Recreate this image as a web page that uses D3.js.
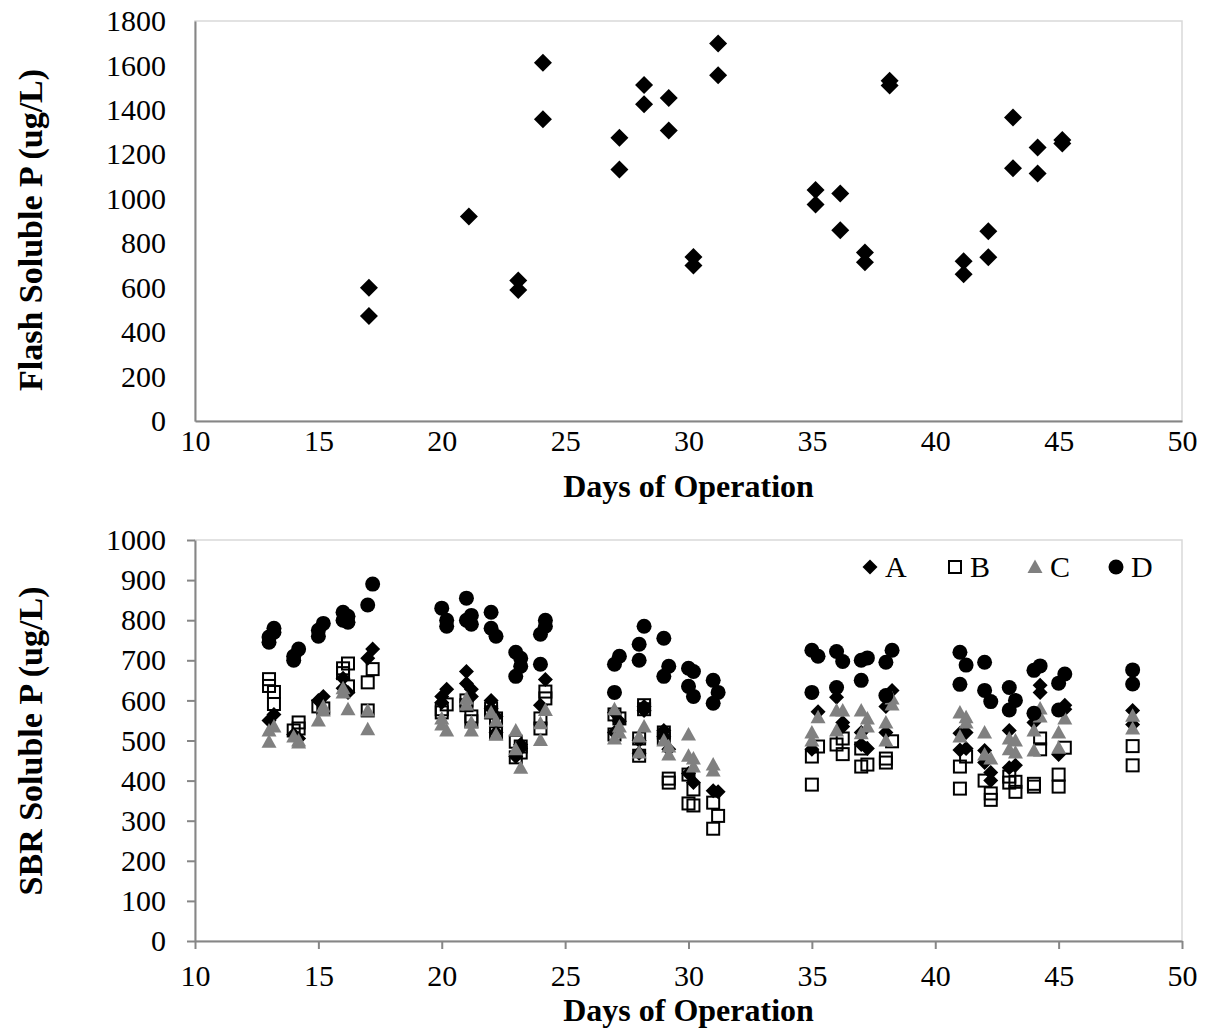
<!DOCTYPE html>
<html>
<head>
<meta charset="utf-8">
<script src="https://cdn.jsdelivr.net/npm/d3@7"></script>
<style>
    body { margin: 0; background: #fff; }
    svg text { font-family: "Liberation Serif", "Times New Roman", serif; fill: #000; }
</style>
</head>
<body>
<div id="chart"></div>
<script>
// Flash soluble P readings (day, ug/L)
const flashDays = [17.05, 17.05, 21.1, 23.1, 23.1, 24.1, 24.1, 27.2, 27.2, 28.2, 28.2, 29.2, 29.2,
    30.2, 30.2, 31.2, 31.2, 35.15, 35.15, 36.15, 36.15, 37.15, 37.15, 38.15, 38.15,
    41.15, 41.15, 42.15, 42.15, 43.15, 43.15, 44.15, 44.15, 45.15, 45.15];
const flashValues = [600, 472, 920, 632, 590, 1612, 1358, 1275, 1132, 1512, 1425, 1454, 1307,
    738, 700, 1699, 1556, 1039, 974, 1024, 858, 758, 714, 1531, 1510,
    719, 660, 854, 737, 1366, 1137, 1231, 1114, 1264, 1249];

// SBR soluble P, one list of [day, ug/L] per reactor
const sbrA = [
    [13, 550], [13.2, 565], [14, 515], [14.2, 505], [15, 600], [15.2, 610],
    [16, 655], [16, 630], [16.2, 620], [17, 705], [17.2, 728],
    [20, 595], [20, 610], [20.2, 628], [21, 672], [21, 642], [21.2, 628], [21.2, 610],
    [22, 600], [22, 580], [22.2, 560], [22.2, 520], [23, 460], [23.2, 490], [23.2, 480],
    [24, 588], [24.2, 652],
    [27, 570], [27, 520], [27.2, 548], [28, 500], [28, 468], [28.2, 585], [28.2, 575],
    [29, 525], [29, 510], [29.2, 478], [30, 418], [30.2, 395], [31, 375], [31.2, 372],
    [35, 478], [35.25, 572], [36, 608], [36.25, 545], [36.25, 535],
    [37, 520], [37, 490], [37.25, 480], [38, 585], [38, 520], [38.25, 625],
    [41, 518], [41, 476], [41.25, 520], [41.25, 480], [42, 475], [42, 445], [42.25, 420], [42.25, 400],
    [43, 525], [43, 432], [43.25, 438], [44, 545], [44.25, 638], [44.25, 620],
    [45, 465], [45.25, 588], [45.25, 578], [48, 575], [48, 540]
];
const sbrB = [
    [13, 653], [13, 636], [13.2, 621], [13.2, 591], [14, 525], [14.2, 545], [14.2, 530],
    [15, 585], [15.2, 580], [16, 680], [16, 668], [16.2, 692], [16.2, 635],
    [17, 645], [17, 575], [17.2, 678],
    [20, 570], [20, 578], [20.2, 590], [21, 600], [21, 588], [21.2, 560], [21.2, 548],
    [22, 580], [22, 570], [22.2, 555], [22.2, 518], [23, 497], [23, 458], [23.2, 485], [23.2, 470],
    [24, 555], [24, 530], [24.2, 622], [24.2, 605],
    [27, 565], [27, 515], [27.2, 555], [28, 505], [28, 462], [28.2, 588], [28.2, 578],
    [29, 520], [29, 505], [29.2, 405], [29.2, 395], [30, 415], [30, 343], [30.2, 378], [30.2, 338],
    [31, 345], [31, 280], [31.2, 312],
    [35, 460], [35, 390], [35.25, 485], [36, 490], [36.25, 505], [36.25, 466],
    [37, 480], [37, 435], [37.25, 440], [38, 455], [38, 445], [38.25, 498],
    [41, 435], [41, 380], [41.25, 460], [42, 400], [42.25, 368], [42.25, 352],
    [43, 410], [43, 395], [43.25, 397], [43.25, 372], [44, 392], [44, 385], [44.25, 505], [44.25, 478],
    [45, 415], [45, 385], [45.25, 482], [48, 486], [48, 438]
];
const sbrC = [
    [13, 525], [13, 497], [13.2, 535], [14, 510], [14.2, 495], [14.2, 500],
    [15, 550], [15.2, 575], [15.2, 585], [16, 630], [16, 620], [16.2, 578],
    [17, 575], [17, 528],
    [20, 555], [20, 540], [20.2, 525], [21, 605], [21, 590], [21.2, 545], [21.2, 525],
    [22, 570], [22.2, 550], [22.2, 515], [23, 525], [23, 478], [23.2, 432],
    [24, 543], [24, 501], [24.2, 576],
    [27, 578], [27, 505], [27.2, 535], [27.2, 520], [28, 510], [28, 470], [28.2, 535],
    [29, 500], [29.2, 485], [29.2, 465], [30, 515], [30, 462], [30.2, 455], [30.2, 435],
    [31, 440], [31, 425],
    [35, 520], [35, 500], [35.25, 558], [36, 575], [36, 525], [36.25, 575],
    [37, 575], [37, 518], [37.25, 555], [37.25, 535], [38, 545], [38, 500], [38.25, 605], [38.25, 590],
    [41, 570], [41, 510], [41.25, 558], [41.25, 545], [42, 520], [42, 465], [42.25, 455],
    [43, 505], [43, 478], [43.25, 500], [43.25, 470], [44, 525], [44, 475], [44.25, 580], [44.25, 560],
    [45, 520], [45, 482], [45.25, 555], [48, 562], [48, 530]
];
const sbrD = [
    [13, 758], [13, 745], [13.2, 780], [13.2, 770], [14, 700], [14, 710], [14.2, 728],
    [15, 760], [15, 775], [15.2, 792], [16, 820], [16, 800], [16.2, 795], [16.2, 810],
    [17, 838], [17.2, 890],
    [20, 830], [20.2, 800], [20.2, 785], [21, 855], [21, 800], [21.2, 812], [21.2, 790],
    [22, 820], [22, 780], [22.2, 760], [23, 720], [23, 660], [23.2, 705], [23.2, 685],
    [24, 690], [24, 765], [24.2, 800], [24.2, 785],
    [27, 620], [27, 690], [27.2, 710], [28, 740], [28, 700], [28.2, 785],
    [29, 755], [29, 660], [29.2, 685], [30, 680], [30, 635], [30.2, 672], [30.2, 610],
    [31, 650], [31, 593], [31.2, 620],
    [35, 725], [35, 620], [35.25, 710], [36, 722], [36, 632], [36.25, 697],
    [37, 700], [37, 650], [37.25, 706], [38, 695], [38, 612], [38.25, 725],
    [41, 720], [41, 640], [41.25, 688], [42, 695], [42, 625], [42.25, 597],
    [43, 632], [43, 576], [43.25, 600], [44, 675], [44, 568], [44.25, 686],
    [45, 643], [45, 576], [45.25, 666], [48, 676], [48, 641]
];

const seriesNames = ['A', 'B', 'C', 'D'];
const dayTicks = [10, 15, 20, 25, 30, 35, 40, 45, 50];
const flashTicks = [0, 200, 400, 600, 800, 1000, 1200, 1400, 1600, 1800];
const sbrTicks = [0, 100, 200, 300, 400, 500, 600, 700, 800, 900, 1000];

const W = 1219, H = 1029;
const FONT = 30;
const axisColor = '#868686';
const borderColor = '#d9d9d9';

const svg = d3.select('#chart').append('svg')
    .attr('width', W)
    .attr('height', H);

// marker shapes, drawn around (0,0)
function diamondPath(r) {
    return `M0,${-r}L${r},0L0,${r}L${-r},0Z`;
}
function trianglePath(r) {
    return `M0,${-r}L${r},${r * 0.8}L${-r},${r * 0.8}Z`;
}

function drawMarker(g, name, big) {
    if (name === 'A') {
        g.append('path').attr('d', diamondPath(big ? 9 : 7.5)).attr('fill', '#000');
    } else if (name === 'B') {
        g.append('rect').attr('x', -6).attr('y', -6).attr('width', 12).attr('height', 12)
            .attr('fill', 'none').attr('stroke', '#000').attr('stroke-width', 2);
    } else if (name === 'C') {
        g.append('path').attr('d', trianglePath(7.5)).attr('fill', '#808080');
    } else {
        g.append('circle').attr('r', 7.5).attr('fill', '#000');
    }
}

// one panel: border, axes, titles; returns scales
function drawPanel(opts) {
    const x = d3.scaleLinear().domain([10, 50]).range([opts.left, opts.right]);
    const y = d3.scaleLinear().domain(opts.yDomain).range([opts.bottom, opts.top]);

    // plot area border (top/right visible)
    svg.append('rect')
        .attr('x', opts.left).attr('y', opts.top)
        .attr('width', opts.right - opts.left).attr('height', opts.bottom - opts.top)
        .attr('fill', 'none').attr('stroke', borderColor).attr('stroke-width', 1.5);

    const xAxis = d3.axisBottom(x).tickValues(dayTicks).tickFormat(d3.format('d'))
        .tickSize(opts.tick).tickSizeOuter(0).tickPadding(opts.xPad);
    const yAxis = d3.axisLeft(y).tickValues(opts.yTicks).tickFormat(d3.format('d'))
        .tickSize(opts.tick).tickSizeOuter(0).tickPadding(opts.yPad);

    const gx = svg.append('g').attr('transform', `translate(0,${opts.bottom})`).call(xAxis);
    const gy = svg.append('g').attr('transform', `translate(${opts.left},0)`).call(yAxis);

    [gx, gy].forEach(g => {
        g.attr('font-family', 'Liberation Serif');
        g.select('.domain').attr('stroke', axisColor).attr('stroke-width', 2);
        g.selectAll('.tick line').attr('stroke', axisColor).attr('stroke-width', 2);
        g.selectAll('.tick text').attr('font-size', FONT);
    });

    svg.append('text')
        .attr('x', (opts.left + opts.right) / 2)
        .attr('y', opts.xTitleY)
        .attr('text-anchor', 'middle')
        .attr('font-size', 32).attr('font-weight', 'bold')
        .text('Days of Operation');

    svg.append('text')
        .attr('transform', `translate(${opts.yTitleX},${opts.yTitleY}) rotate(-90)`)
        .attr('text-anchor', 'middle')
        .attr('font-size', 34).attr('font-weight', 'bold')
        .text(opts.yTitle);

    return { x, y };
}

// top panel: flash tank
const flashPanel = drawPanel({
    left: 195, right: 1182, top: 21, bottom: 421,
    yDomain: [0, 1800], yTicks: flashTicks, tick: 0, xPad: 9, yPad: 29,
    xTitleY: 497, yTitleX: 42, yTitleY: 230,
    yTitle: 'Flash Soluble P (ug/L)'
});

svg.append('g').selectAll('path')
    .data(flashDays.map((d, i) => [d, flashValues[i]]))
    .enter()
    .append('path')
    .attr('d', diamondPath(9))
    .attr('transform', d => `translate(${flashPanel.x(d[0])},${flashPanel.y(d[1])})`)
    .attr('fill', '#000');

// bottom panel: SBRs
const sbrPanel = drawPanel({
    left: 195, right: 1182, top: 540, bottom: 941,
    yDomain: [0, 1000], yTicks: sbrTicks, tick: 8, xPad: 16, yPad: 21,
    xTitleY: 1021, yTitleX: 42, yTitleY: 741,
    yTitle: 'SBR Soluble P (ug/L)'
});

[sbrA, sbrB, sbrC, sbrD].forEach((series, i) => {
    const name = seriesNames[i];
    series.forEach(d => {
        const g = svg.append('g').attr('transform', `translate(${sbrPanel.x(d[0])},${sbrPanel.y(d[1])})`);
        drawMarker(g, name, false);
    });
});

// legend
const legendX = [870, 955, 1035, 1116];
seriesNames.forEach((name, i) => {
    const g = svg.append('g').attr('transform', `translate(${legendX[i]},567)`);
    drawMarker(g, name, false);
    g.append('text')
        .attr('x', 15).attr('y', 10)
        .attr('font-size', FONT)
        .text(name);
});
</script>
</body>
</html>
